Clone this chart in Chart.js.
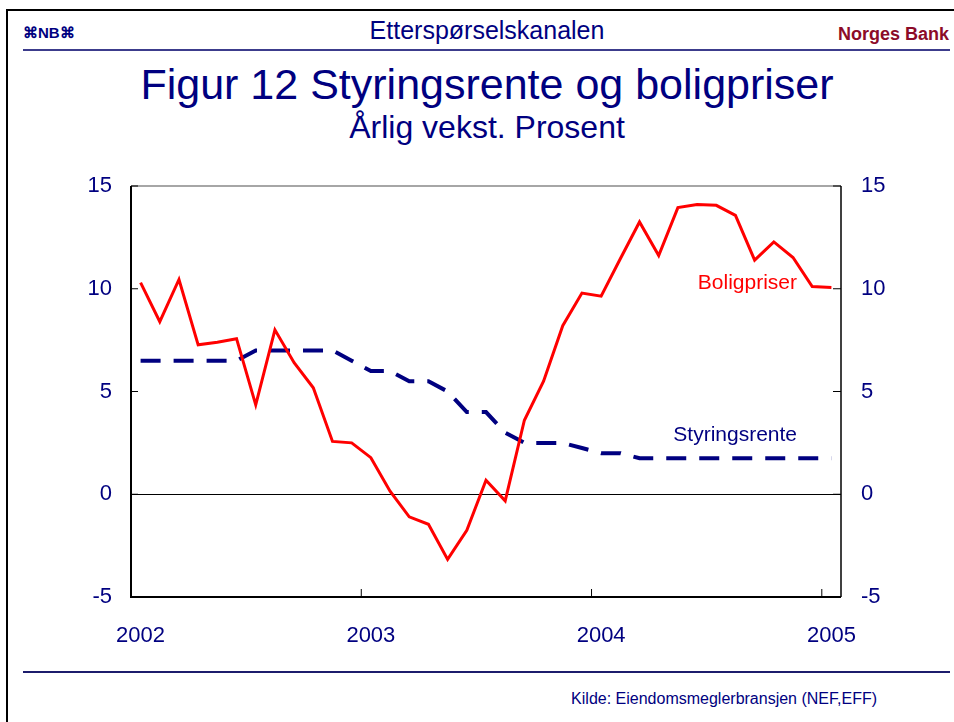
<!DOCTYPE html>
<html>
<head>
<meta charset="utf-8">
<script src="https://cdn.jsdelivr.net/npm/chart.js@4"></script>
<style>
  html, body { margin: 0; padding: 0; background: #fff; }
  body { width: 954px; height: 722px; position: relative; overflow: hidden;
         font-family: "Liberation Sans", Arial, sans-serif; color: #000080; }
  .t { position: absolute; white-space: nowrap; line-height: 1; }
  .c { left: 487px; transform: translateX(-50%); }
  .rule { position: absolute; }
  #chart { position: absolute; left: 0; top: 0; }
</style>
</head>
<body>
<div class="rule" style="left:6px; top:9px; width:948px; height:2px; background:#000;"></div>
<div class="rule" style="left:6px; top:9px; width:2px; height:713px; background:#000;"></div>
<div class="rule" style="left:23px; top:49px; width:927px; height:2px; background:#3c3c8c;"></div>
<div class="rule" style="left:23px; top:671px; width:927px; height:2px; background:#1c1c6c;"></div>

<div class="t" style="left:23px; top:25px; font-size:15px; font-weight:bold;">⌘NB⌘</div>
<div class="t c" style="top:18px; font-size:25px;">Etterspørselskanalen</div>
<div class="t" style="right:5px; top:25px; font-size:18px; font-weight:bold; color:#8c0a28;">Norges Bank</div>

<div class="t c" style="top:63px; font-size:43px;">Figur 12 Styringsrente og boligpriser</div>
<div class="t c" style="top:111px; font-size:32px;">Årlig vekst. Prosent</div>

<div class="t" style="right:77px; top:691px; font-size:16px;">Kilde: Eiendomsmeglerbransjen (NEF,EFF)</div>

<canvas id="chart" width="954" height="722"></canvas>

<script>
const months = [
  '2002-01', '2002-02', '2002-03', '2002-04', '2002-05', '2002-06',
  '2002-07', '2002-08', '2002-09', '2002-10', '2002-11', '2002-12',
  '2003-01', '2003-02', '2003-03', '2003-04', '2003-05', '2003-06',
  '2003-07', '2003-08', '2003-09', '2003-10', '2003-11', '2003-12',
  '2004-01', '2004-02', '2004-03', '2004-04', '2004-05', '2004-06',
  '2004-07', '2004-08', '2004-09', '2004-10', '2004-11', '2004-12',
  '2005-01'
];
const boligpriser = [
  10.3, 8.4, 10.45, 7.27, 7.4, 7.57, 4.35, 8.0, 6.4, 5.18, 2.57, 2.5,
  1.78, 0.15, -1.1, -1.46, -3.17, -1.75, 0.68, -0.32, 3.6, 5.5, 8.2, 9.79,
  9.64, 11.46, 13.25, 11.62, 13.95, 14.1, 14.06, 13.57, 11.39, 12.28, 11.52, 10.11,
  10.06
];
const styringsrente = [
  6.5, 6.5, 6.5, 6.5, 6.5, 6.5, 7.0, 7.0, 7.0, 7.0, 7.0, 6.5,
  6.0, 6.0, 5.5, 5.5, 5.0, 4.0, 4.0, 3.0, 2.5, 2.5, 2.5, 2.25,
  2.0, 2.0, 1.75, 1.75, 1.75, 1.75, 1.75, 1.75, 1.75, 1.75, 1.75, 1.75,
  1.75
];
const yTicks = [-5, 0, 5, 10, 15];

const navy = '#000080';
const red = '#ff0000';
const font = '"Liberation Sans", Arial, sans-serif';

// frame, inward tick marks and line labels
const frame = {
  id: 'frame',
  afterDraw(chart) {
    const { ctx, chartArea: a, scales } = chart;
    const xs = scales.x, ys = scales.y;
    ctx.save();
    ctx.lineCap = 'butt';
    ctx.strokeStyle = '#888';
    ctx.lineWidth = 1.5;
    ctx.beginPath(); ctx.moveTo(a.left, a.top); ctx.lineTo(a.right, a.top); ctx.stroke();
    ctx.strokeStyle = '#000';
    ctx.lineWidth = 2;
    ctx.beginPath(); ctx.moveTo(a.left, a.top); ctx.lineTo(a.left, a.bottom); ctx.lineTo(a.right, a.bottom); ctx.stroke();
    ctx.lineWidth = 1.5;
    ctx.beginPath(); ctx.moveTo(a.right, a.top); ctx.lineTo(a.right, a.bottom); ctx.stroke();
    ctx.lineWidth = 1;
    yTicks.forEach(v => {
      const py = ys.getPixelForValue(v);
      ctx.beginPath();
      ctx.moveTo(a.left, py); ctx.lineTo(a.left + 7, py);
      ctx.moveTo(a.right - 8, py); ctx.lineTo(a.right, py);
      ctx.stroke();
    });
    months.forEach((m, i) => {
      if (i === 0 || !m.endsWith('-01')) return;
      const px = (xs.getPixelForValue(i - 1) + xs.getPixelForValue(i)) / 2;
      ctx.beginPath(); ctx.moveTo(px, a.bottom); ctx.lineTo(px, a.bottom - 8); ctx.stroke();
    });
    ctx.font = '21px ' + font;
    ctx.textAlign = 'right';
    ctx.textBaseline = 'middle';
    ctx.fillStyle = red;
    ctx.fillText('Boligpriser', xs.getPixelForValue(34) + 4, ys.getPixelForValue(10.25));
    ctx.fillStyle = navy;
    ctx.fillText('Styringsrente', xs.getPixelForValue(34) + 4, ys.getPixelForValue(2.85));
    ctx.restore();
  }
};

new Chart(document.getElementById('chart'), {
  type: 'line',
  data: {
    labels: months,
    datasets: [
      {
        label: 'Boligpriser',
        data: boligpriser,
        borderColor: red,
        borderWidth: 3,
        pointRadius: 0,
        tension: 0
      },
      {
        label: 'Styringsrente',
        data: styringsrente,
        borderColor: navy,
        borderWidth: 4,
        borderDash: [20, 13],
        pointRadius: 0,
        tension: 0
      }
    ]
  },
  options: {
    responsive: false,
    devicePixelRatio: 1,
    animation: false,
    layout: { padding: { left: 71, right: 53, top: 186, bottom: 65 } },
    plugins: { legend: { display: false }, tooltip: { enabled: false } },
    scales: {
      x: {
        offset: true,
        grid: { display: false, drawTicks: false },
        border: { display: false },
        afterFit: s => { s.height = 60; },
        ticks: {
          autoSkip: false,
          maxRotation: 0,
          padding: 26,
          color: navy,
          font: { size: 22, family: font },
          callback: (v, i) => months[i].endsWith('-01') ? months[i].slice(0, 4) : ''
        }
      },
      y: {
        position: 'left',
        min: -5, max: 15,
        afterFit: s => { s.width = 60; },
        border: { display: false },
        grid: {
          drawTicks: false,
          lineWidth: 1,
          color: c => c.tick && c.tick.value === 0 ? '#000' : 'rgba(0,0,0,0)'
        },
        ticks: { stepSize: 5, padding: 19, color: navy, font: { size: 22, family: font } }
      },
      y2: {
        position: 'right',
        min: -5, max: 15,
        afterFit: s => { s.width = 60; },
        border: { display: false },
        grid: { display: false, drawTicks: false },
        ticks: { stepSize: 5, padding: 20, color: navy, font: { size: 22, family: font } }
      }
    }
  },
  plugins: [frame]
});
</script>
</body>
</html>
